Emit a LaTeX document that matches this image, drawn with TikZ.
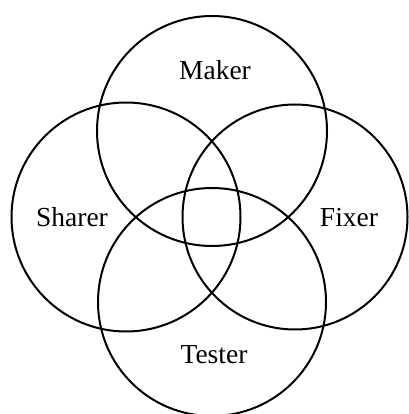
\documentclass[tikz,border=0pt]{standalone}
\usepackage{fontspec}
\setmainfont{Liberation Serif}
\begin{document}
\begin{tikzpicture}[x=1pt,y=-1pt,
  ring/.style={circle,draw=black,line width=2pt,inner sep=0pt},
  lbl/.style={anchor=base,inner sep=0pt,font=\fontsize{27.5}{30}\selectfont,text=black}]
\useasboundingbox (0,0) rectangle (408,414);
\node[ring,minimum size=230pt] (maker) at (212,131) {};
\node[ring,minimum size=229pt] (sharer) at (126,217) {};
\node[ring,minimum size=225pt] (fixer) at (295,217) {};
\node[ring,minimum size=228pt] (tester) at (212,302) {};
\node[lbl] (tm) at (215,80) {Maker};
\node[lbl] (ts) at (72,226) {Sharer};
\node[lbl] (tf) at (349,226) {Fixer};
\node[lbl] (tt) at (214,363) {Tester};
\end{tikzpicture}
\end{document}
